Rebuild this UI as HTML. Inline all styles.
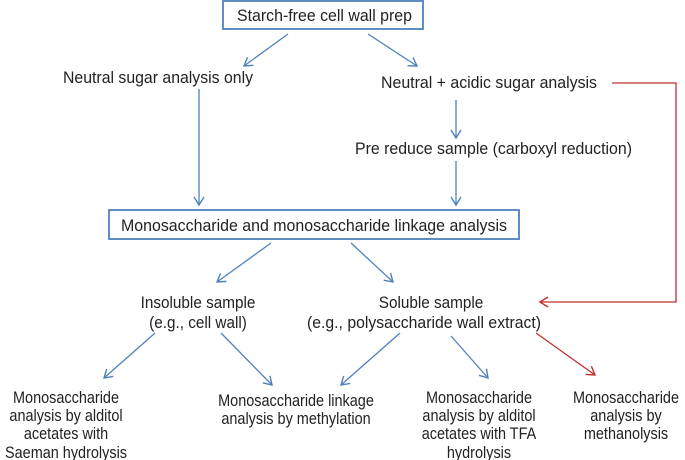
<!DOCTYPE html>
<html><head><meta charset="utf-8"><style>
html,body{margin:0;padding:0;background:#fff;}
svg{display:block;}
text{font-family:"Liberation Sans",Arial,sans-serif;font-size:17px;fill:#222;}
</style></head><body>
<svg width="685" height="460" viewBox="0 0 685 460" xmlns="http://www.w3.org/2000/svg">
<defs>
<marker id="ab" markerWidth="12" markerHeight="12" refX="9" refY="6" orient="auto" markerUnits="userSpaceOnUse">
<path d="M1,1 L9,6 L1,11" fill="none" stroke="#4f81bd" stroke-width="1.4"/></marker>
<marker id="ar" markerWidth="12" markerHeight="12" refX="9" refY="6" orient="auto" markerUnits="userSpaceOnUse">
<path d="M1,1 L9,6 L1,11" fill="none" stroke="#c0302f" stroke-width="1.4"/></marker>
</defs>
<g fill="none" stroke="#4f81bd" stroke-width="1.8">
<rect x="223" y="1" width="200" height="28"/>
<rect x="109" y="210" width="410" height="29"/>
</g>
<g stroke="#4f81bd" stroke-width="1.3" marker-end="url(#ab)">
<line x1="288" y1="34" x2="244" y2="66"/>
<line x1="368" y1="34" x2="417" y2="66"/>
<line x1="199" y1="89" x2="199" y2="205"/>
<line x1="456" y1="100" x2="456" y2="138"/>
<line x1="456" y1="161" x2="456" y2="205"/>
<line x1="271" y1="243" x2="217" y2="282"/>
<line x1="351" y1="243" x2="393" y2="282"/>
<line x1="155" y1="333" x2="104" y2="378"/>
<line x1="221" y1="333" x2="272" y2="385"/>
<line x1="400" y1="333" x2="341" y2="385"/>
<line x1="451" y1="336" x2="488" y2="378"/>
</g>
<g stroke="#c0302f" stroke-width="1.3" fill="none">
<polyline points="612,83 676,83 676,302 540,302" marker-end="url(#ar)"/>
<line x1="536" y1="333" x2="595" y2="375" marker-end="url(#ar)"/>
</g>
<text x="237" y="21" textLength="175" lengthAdjust="spacingAndGlyphs">Starch-free cell wall prep</text>
<text x="63" y="83" textLength="190" lengthAdjust="spacingAndGlyphs">Neutral sugar analysis only</text>
<text x="381" y="88" textLength="216" lengthAdjust="spacingAndGlyphs">Neutral + acidic sugar analysis</text>
<text x="355" y="154" textLength="277" lengthAdjust="spacingAndGlyphs">Pre reduce sample (carboxyl reduction)</text>
<text x="121" y="231" textLength="386" lengthAdjust="spacingAndGlyphs">Monosaccharide and monosaccharide linkage analysis</text>
<g text-anchor="middle">
<g transform="translate(198,0) scale(0.9,1)"><text x="0" y="308">Insoluble sample</text><text x="0" y="328">(e.g., cell wall)</text></g>
<g transform="translate(431,0) scale(0.9,1)"><text x="0" y="308">Soluble sample</text></g>
<text x="424" y="328" textLength="234" lengthAdjust="spacingAndGlyphs">(e.g., polysaccharide wall extract)</text>
<g transform="translate(66,0) scale(0.85,1)">
<text x="0" y="403">Monosaccharide</text>
<text x="0" y="421">analysis by alditol</text>
<text x="0" y="439">acetates with</text>
<text x="0" y="458">Saeman hydrolysis</text></g>
<g transform="translate(296,0) scale(0.85,1)">
<text x="0" y="406">Monosaccharide linkage</text>
<text x="0" y="424">analysis by methylation</text></g>
<g transform="translate(479,0) scale(0.85,1)">
<text x="0" y="403">Monosaccharide</text>
<text x="0" y="421">analysis by alditol</text>
<text x="0" y="439">acetates with TFA</text>
<text x="0" y="458">hydrolysis</text></g>
<g transform="translate(626,0) scale(0.85,1)">
<text x="0" y="403">Monosaccharide</text>
<text x="0" y="421">analysis by</text>
<text x="0" y="439">methanolysis</text></g>
</g>
</svg>
</body></html>
